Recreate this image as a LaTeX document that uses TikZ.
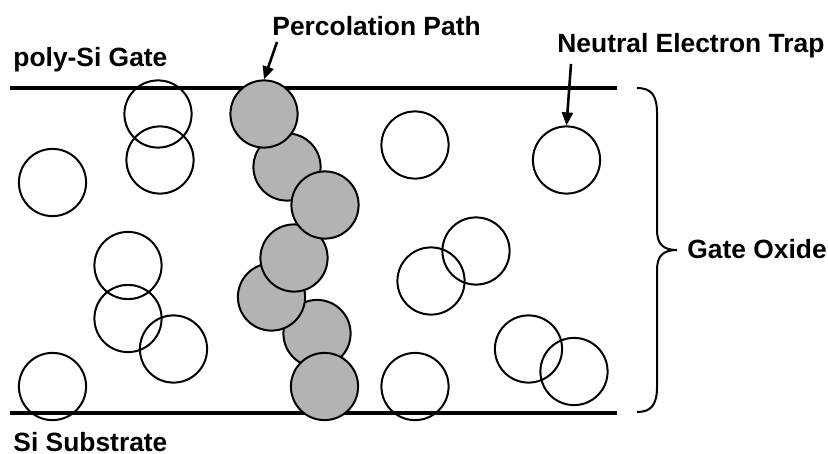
\documentclass[tikz,border=0pt]{standalone}
\usepackage{fontspec}
\setmainfont{Liberation Sans}
\usetikzlibrary{arrows.meta}
\definecolor{PathClr}{RGB}{179,179,179}
\definecolor{LineClr}{rgb}{0,0,0}

\begin{document}
\begin{tikzpicture}[x=0.5pt,y=-0.5pt,
  trap/.style={circle,draw=LineClr,line width=1pt,inner sep=0pt,minimum size=33.6pt},
  hop/.style={trap,fill=PathClr},
  plate/.style={line width=2pt,color=LineClr},
  lbl/.style={anchor=base west,inner sep=0pt,font=\fontsize{13.2}{15}\selectfont\bfseries},
  pointer/.style={line width=1.3pt,-{Triangle[length=6.5pt,width=5.5pt]}}]
\useasboundingbox (0,0) rectangle (828,454);

% gate and substrate
\draw[plate] (10,88) -- (617,88);
\draw[plate] (10,413) -- (617,413);

% neutral traps
\node[trap] (T1) at (158,114) {};
\node[trap] (T2) at (160,160) {};
\node[trap] (T3) at (52.5,182.5) {};
\node[trap] (T4) at (128,265.5) {};
\node[trap] (T5) at (128,318.5) {};
\node[trap] (T6) at (173.5,349) {};
\node[trap] (T7) at (52.5,386.5) {};
\node[trap] (T8) at (415,145) {};
\node[trap] (T9) at (566.5,160) {};
\node[trap] (T10) at (476,251) {};
\node[trap] (T11) at (431,281) {};
\node[trap] (T12) at (528.5,349) {};
\node[trap] (T13) at (574,371.5) {};
\node[trap] (T14) at (415,386.5) {};

% percolation path (bottom to top of the stack)
\node[hop] (P6) at (317,333.5) {};
\node[hop] (P7) at (324.5,386.5) {};
\node[hop] (P5) at (271.5,297) {};
\node[hop] (P4) at (294,258) {};
\node[hop] (P2) at (287,167) {};
\node[hop] (P3) at (325,205) {};
\node[hop] (P1) at (264,114) {};

% labels
\node[lbl] (gate) at (13,67) {poly-Si Gate};
\node[lbl] (sub) at (13,451) {Si Substrate};
\node[lbl] (perc) at (272,36) {Percolation Path};
\node[lbl] (neut) at (557,53) {Neutral Electron Trap};
\node[lbl] (oxide) at (687,258) {Gate Oxide};

\coordinate (percfoot) at (277,42);
\coordinate (neutfoot) at (571,64);
\draw[pointer] (percfoot) -- (P1.north);
\draw[pointer] (neutfoot) -- (T9.north);

% brace
\draw[line width=1pt] (637,88) .. controls (651,88) and (657,95) .. (657,113)
  -- (657,230) .. controls (657,244) and (663,250) .. (677,250)
  .. controls (663,250) and (657,256) .. (657,270)
  -- (657,387) .. controls (657,405) and (651,412) .. (637,412);

\end{tikzpicture}
\end{document}
